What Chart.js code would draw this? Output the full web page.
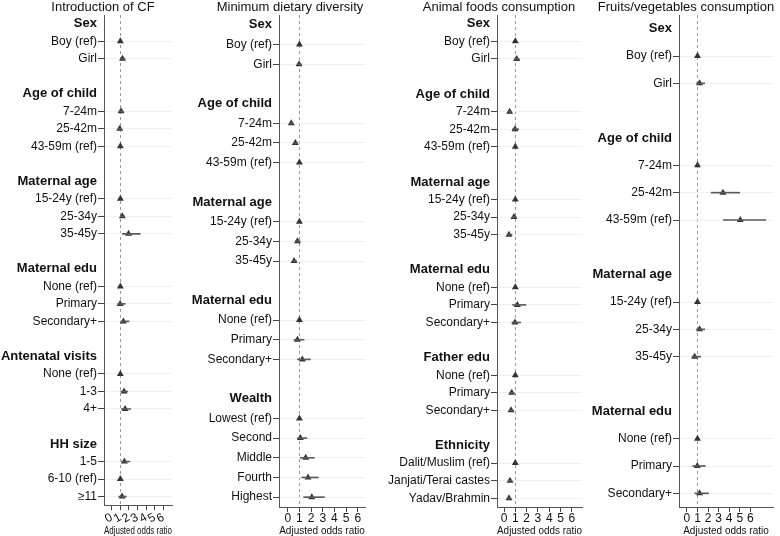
<!DOCTYPE html>
<html>
<head>
<meta charset="utf-8">
<script src="https://cdn.jsdelivr.net/npm/chart.js@4.4.0/dist/chart.umd.min.js"></script>
<style>
  body { margin: 0; background: #fff; width: 780px; height: 536px; position: relative; overflow: hidden;
    font-family: 'Liberation Sans', Arial, Helvetica, sans-serif; }
  canvas { position: absolute; top: 0; }
  .title { position: absolute; top: 0; width: 220px; text-align: center; font-size: 13px; line-height: 13px;
    color: #111; white-space: nowrap; }
</style>
</head>
<body>
<canvas id="cfChart" width="206" height="536" style="left:0px"></canvas>
<canvas id="mddChart" width="208" height="536" style="left:186px"></canvas>
<canvas id="afChart" width="246" height="536" style="left:376px"></canvas>
<canvas id="fvChart" width="188" height="536" style="left:592px"></canvas>
<div class="title" style="left:-7px">Introduction of CF</div>
<div class="title" style="left:180px">Minimum dietary diversity</div>
<div class="title" style="left:389px">Animal foods consumption</div>
<div class="title" style="left:576px">Fruits/vegetables consumption</div>
<script>
// group headings (drawn bold, no tick / grid line)
const headers = ['Sex', 'Age of child', 'Maternal age', 'Maternal edu', 'Antenatal visits',
  'HH size', 'Wealth', 'Father edu', 'Ethnicity'];
const xTicks = [0, 1, 2, 3, 4, 5, 6];
const refValue = 1;

// Introduction of CF
const cfLabels = ['Sex', 'Boy (ref)', 'Girl', '', 'Age of child', '7-24m', '25-42m', '43-59m (ref)', '',
  'Maternal age', '15-24y (ref)', '25-34y', '35-45y', '', 'Maternal edu', 'None (ref)', 'Primary', 'Secondary+', '',
  'Antenatal visits', 'None (ref)', '1-3', '4+', '', 'HH size', '1-5', '6-10 (ref)', '≥11'];
const cfOR = [null, 1, 1.25, null, null, 1.08, 0.93, 1, null, null, 1, 1.23, 1.95, null, null, 1, 0.97, 1.35, null,
  null, 1, 1.43, 1.55, null, null, 1.47, 1, 1.2];
const cfLow = [null, null, 1.0, null, null, 0.85, 0.75, null, null, null, null, 1.0, 1.25, null, null, null, 0.7, 1.05, null,
  null, null, 1.05, 1.12, null, null, 1.12, null, 0.8];
const cfHigh = [null, null, 1.55, null, null, 1.35, 1.15, null, null, null, null, 1.5, 3.3, null, null, null, 1.55, 2.0, null,
  null, null, 1.85, 2.2, null, null, 2.1, null, 1.7];

// Minimum dietary diversity
const mddLabels = ['Sex', 'Boy (ref)', 'Girl', '', 'Age of child', '7-24m', '25-42m', '43-59m (ref)', '',
  'Maternal age', '15-24y (ref)', '25-34y', '35-45y', '', 'Maternal edu', 'None (ref)', 'Primary', 'Secondary+', '',
  'Wealth', 'Lowest (ref)', 'Second', 'Middle', 'Fourth', 'Highest'];
const mddOR = [null, 1, 0.97, null, null, 0.3, 0.65, 1, null, null, 1, 0.83, 0.54, null, null, 1, 0.83, 1.25, null,
  null, 1, 1.08, 1.54, 1.74, 2.06];
const mddLow = [null, null, 0.8, null, null, 0.2, 0.5, null, null, null, null, 0.65, 0.4, null, null, null, 0.54, 0.83, null,
  null, null, 0.83, 1.08, 1.2, 1.37];
const mddHigh = [null, null, 1.15, null, null, 0.45, 0.85, null, null, null, null, 1.05, 0.75, null, null, null, 1.4, 1.94, null,
  null, null, 1.63, 2.28, 2.62, 3.14];

// Animal foods consumption
const afLabels = ['Sex', 'Boy (ref)', 'Girl', '', 'Age of child', '7-24m', '25-42m', '43-59m (ref)', '',
  'Maternal age', '15-24y (ref)', '25-34y', '35-45y', '', 'Maternal edu', 'None (ref)', 'Primary', 'Secondary+', '',
  'Father edu', 'None (ref)', 'Primary', 'Secondary+', '', 'Ethnicity', 'Dalit/Muslim (ref)', 'Janjati/Terai castes', 'Yadav/Brahmin'];
const afOR = [null, 1, 1.12, null, null, 0.5, 0.97, 1, null, null, 1, 0.88, 0.44, null, null, 1, 1.18, 0.97, null,
  null, 1, 0.68, 0.62, null, null, 1, 0.53, 0.44];
const afLow = [null, null, 0.9, null, null, 0.4, 0.75, null, null, null, null, 0.72, 0.34, null, null, null, 0.76, 0.7, null,
  null, null, 0.5, 0.48, null, null, null, 0.4, 0.32];
const afHigh = [null, null, 1.35, null, null, 0.65, 1.3, null, null, null, null, 1.08, 0.7, null, null, null, 1.94, 1.47, null,
  null, null, 0.9, 0.82, null, null, null, 0.7, 0.6];

// Fruits/vegetables consumption
const fvLabels = ['Sex', 'Boy (ref)', 'Girl', '', 'Age of child', '7-24m', '25-42m', '43-59m (ref)', '',
  'Maternal age', '15-24y (ref)', '25-34y', '35-45y', '', 'Maternal edu', 'None (ref)', 'Primary', 'Secondary+'];
const fvOR = [null, 1, 1.2, null, null, 1, 3.41, 5.05, null, null, 1, 1.2, 0.73, null, null, 1, 0.98, 1.2];
const fvLow = [null, null, 0.92, null, null, null, 2.3, 3.44, null, null, null, 0.92, 0.48, null, null, null, 0.54, 0.75];
const fvHigh = [null, null, 1.68, null, null, null, 5.0, 7.46, null, null, null, 1.68, 1.3, null, null, null, 1.74, 2.05];

const FONT = 'Liberation Sans, Arial, Helvetica, sans-serif';

function isItem(labels, i) {
  return labels[i] !== '' && !headers.includes(labels[i]);
}

function makePanel(id, labels, or, low, high, xMin, xMax, yWidth, padRight) {
  const ciData = low.map((l, i) => (l == null ? null : [l, high[i]]));
  return new Chart(document.getElementById(id), {
    type: 'bar',
    data: {
      labels: labels,
      datasets: [
        {
          type: 'bar',
          indexAxis: 'y',
          data: ciData,
          backgroundColor: '#5a5a5a',
          borderWidth: 0,
          barThickness: 1
        },
        {
          type: 'line',
          indexAxis: 'y',
          data: or,
          showLine: false,
          pointStyle: 'triangle',
          pointRadius: 4,
          pointBackgroundColor: '#333',
          pointBorderColor: '#333',
          pointBorderWidth: 0
        }
      ]
    },
    options: {
      responsive: false,
      animation: false,
      indexAxis: 'y',
      layout: { padding: { left: 0, right: padRight, top: 15, bottom: 0 } },
      plugins: {
        legend: { display: false },
        tooltip: { enabled: false }
      },
      scales: {
        x: {
          type: 'linear',
          min: xMin,
          max: xMax,
          afterBuildTicks: (scale) => { scale.ticks = xTicks.map(v => ({ value: v })); },
          ticks: {
            color: '#111',
            padding: 1,
            font: { family: FONT, size: 12, lineHeight: 1 },
            callback: (v) => v
          },
          grid: {
            color: (ctx) => (ctx.tick && ctx.tick.value === refValue ? '#999' : 'rgba(0,0,0,0)'),
            tickColor: '#444',
            tickLength: 5,
            tickBorderDash: []
          },
          border: { color: '#555', width: 1, dash: [3, 3] },
          title: {
            display: true,
            text: 'Adjusted odds ratio',
            color: '#111',
            font: { family: FONT, size: 10, lineHeight: 1 },
            padding: { top: 0, bottom: 0 }
          }
        },
        y: {
          type: 'category',
          offset: true,
          afterFit: (scale) => { scale.width = yWidth; },
          ticks: {
            autoSkip: false,
            color: '#111',
            padding: 1,
            font: (ctx) => (headers.includes(labels[ctx.index])
              ? { family: FONT, size: 13, weight: 'bold' }
              : { family: FONT, size: 12 })
          },
          grid: {
            offset: false,
            color: (ctx) => (isItem(labels, ctx.index) ? '#edf1f3' : 'rgba(0,0,0,0)'),
            tickColor: (ctx) => (isItem(labels, ctx.index) ? '#444' : 'rgba(0,0,0,0)'),
            tickLength: 6
          },
          border: { color: '#555', width: 1 }
        }
      }
    }
  });
}

makePanel('cfChart', cfLabels, cfOR, cfLow, cfHigh, -0.9, 7.0, 104, 34);
makePanel('mddChart', mddLabels, mddOR, mddLow, mddHigh, -0.75, 6.62, 93, 29);
makePanel('afChart', afLabels, afOR, afLow, afHigh, -0.62, 6.9, 121, 40);
makePanel('fvChart', fvLabels, fvOR, fvLow, fvHigh, -0.75, 8.15, 87, 7);
</script>
</body>
</html>
